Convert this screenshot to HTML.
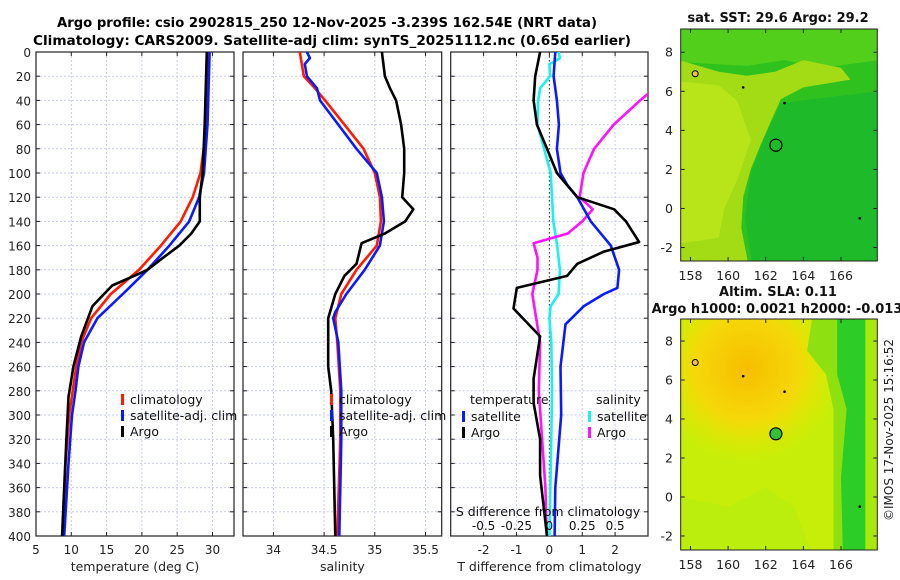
<!DOCTYPE html>
<html><head><meta charset="utf-8"><style>
html,body{margin:0;padding:0;background:#fff;}
svg{display:block;font-family:"DejaVu Sans","Liberation Sans",sans-serif;}
</style></head><body>
<svg id="chart" width="900" height="580" viewBox="0 0 900 580" xmlns="http://www.w3.org/2000/svg">
<text x="327" y="27" font-size="13" font-weight="bold" text-anchor="middle" textLength="540" lengthAdjust="spacingAndGlyphs">Argo profile: csio 2902815_250 12-Nov-2025 -3.239S 162.54E (NRT data)</text>
<text x="332" y="45" font-size="13" font-weight="bold" text-anchor="middle" textLength="598" lengthAdjust="spacingAndGlyphs">Climatology: CARS2009. Satellite-adj clim: synTS_20251112.nc (0.65d earlier)</text>
<g id="maps"></g>
<g id="plots"></g>
<text transform="translate(893,430) rotate(-90)" font-size="12" text-anchor="middle" fill="#222">©IMOS 17-Nov-2025 15:16:52</text>
</svg>
<script>
// ---------- data ----------
const depthTicks = [0,20,40,60,80,100,120,140,160,180,200,220,240,260,280,300,320,340,360,380,400];
const tempTicks = [5,10,15,20,25,30];
const salTicks = [34,34.5,35,35.5];
const tdiffTicks = [-2,-1,0,1,2];
const sdiffTicks = [-0.5,-0.25,0,0.25,0.5];
const sdiffLabels = ["-0.5","-0.25","0","0.25","0.5"];

const argoTDepth = [0,20,60,100,120,140,150,160,170,180,185,193,210,235,260,285,320,360,400];
const argoTemp   = [29.2,29.1,28.9,28.6,28.2,28.2,27.0,25.3,23.0,20.8,18.9,15.8,13.0,11.4,10.3,9.6,9.3,9.0,8.7];
const climTDepth = [0,60,100,120,140,160,180,200,220,240,260,280,300,340,400];
const climTemp   = [29.5,29.2,28.3,27.2,25.5,22.7,19.6,15.6,12.8,11.4,10.7,10.2,9.7,9.2,8.8];
const satTemp    = [29.6,29.3,28.8,28.1,26.7,23.9,20.8,17.3,13.7,11.8,11.0,10.6,10.1,9.6,9.0];

const argoSDepth = [0,20,30,40,60,80,100,120,130,140,150,158,175,185,200,220,260,280,320,400];
const argoSal    = [35.07,35.10,35.15,35.21,35.26,35.29,35.29,35.27,35.38,35.30,35.10,34.87,34.82,34.70,34.61,34.54,34.54,34.57,34.59,34.61];
const climSDepth = [0,20,30,40,60,80,100,120,140,160,180,200,220,240,280,320,400];
const climSal    = [34.26,34.30,34.41,34.51,34.70,34.89,35.00,35.05,35.06,35.02,34.82,34.67,34.61,34.63,34.66,34.66,34.63];
const satSDepth  = [0,5,10,20,30,40,60,80,100,120,140,160,180,200,215,220,240,280,320,400];
const satSal     = [34.33,34.36,34.31,34.33,34.43,34.46,34.64,34.82,35.02,35.07,35.09,35.05,34.90,34.72,34.61,34.59,34.64,34.67,34.67,34.65];

const satTdDepth = [0,20,40,60,80,100,110,120,140,160,180,195,200,210,225,260,300,360,400];
const satTdiff   = [0.18,0.13,0.23,0.29,0.23,0.34,0.55,0.85,1.26,1.87,2.12,2.07,1.66,1.05,0.49,0.34,0.36,0.18,0.16];
const argoTdDepth= [0,20,40,60,80,100,120,130,140,157,165,175,185,195,212,235,270,290,320,350,400];
const argoTdiff  = [-0.28,-0.43,-0.48,-0.38,-0.07,0.23,0.85,1.97,2.33,2.73,1.66,0.85,0.54,-0.99,-1.09,-0.28,-0.48,-0.48,-0.28,-0.28,-0.07];
const satSdDepth = [0,5,8,10,20,30,40,60,80,100,120,140,160,180,200,210,220,240,280,320,400];
const satSdiff   = [0.07,0.08,0.04,0.0,0.005,-0.07,-0.085,-0.09,-0.04,0.01,0.02,0.03,0.06,0.08,0.07,0.01,0.0,0.015,0.02,0.015,0.0];
const argoSdDepth= [30,40,60,80,100,120,130,140,150,158,170,180,200,240,280,320,360,400];
const argoSdiff  = [0.80,0.69,0.49,0.34,0.26,0.23,0.33,0.25,0.14,-0.12,-0.09,-0.09,-0.13,-0.07,-0.08,-0.055,-0.03,-0.02];

const mapLonTicks = [158,160,162,164,166];
const mapLatTicks = [-2,0,2,4,6,8];
const argoLon = [162.54];
const argoLat = [3.24];

// ---------- helpers ----------
const NS = "http://www.w3.org/2000/svg";
function mk(tag, attrs, parent){const e=document.createElementNS(NS,tag);for(const k in attrs)e.setAttribute(k,attrs[k]);parent.appendChild(e);return e;}
const TOP=52, BOT=536;
const yD = d => TOP + (d/400)*(BOT-TOP);
const plots = document.getElementById('plots');

function axisFn(x0,x1,v0,v1){return v => x0 + (v-v0)/(v1-v0)*(x1-x0);}

function panel(name, x0, x1, v0, v1, ticks, tickLbls, xlabel, showY){
  const g = mk('g',{},plots);
  
  
  const xs = axisFn(x0,x1,v0,v1);
  const defs = mk('clipPath',{id:'clip-'+name},g);
  mk('rect',{x:x0,y:TOP,width:x1-x0,height:BOT-TOP},defs);
  depthTicks.forEach(d=>{ if(d>0&&d<400){ const l=mk('line',{x1:x0,x2:x1,y1:yD(d),y2:yD(d),stroke:'#c5cce6','stroke-width':1,'stroke-dasharray':'2,2'},g);
     
    mk('line',{x1:x0,x2:x0+4,y1:yD(d),y2:yD(d),stroke:'#222'},g); mk('line',{x1:x1-4,x2:x1,y1:yD(d),y2:yD(d),stroke:'#222'},g);} });
  ticks.forEach((t,i)=>{ const x=xs(t);
    const l=mk('line',{x1:x,x2:x,y1:TOP,y2:BOT,stroke:'#c5cce6','stroke-width':1,'stroke-dasharray':'2,2'},g);
     
    mk('line',{x1:x,x2:x,y1:BOT-4,y2:BOT,stroke:'#222'},g); mk('line',{x1:x,x2:x,y1:TOP,y2:TOP+4,stroke:'#222'},g);
    const tx=mk('text',{x:x,y:BOT+18,'font-size':12,'text-anchor':'middle',fill:'#222'},g); tx.textContent=tickLbls[i];
     
  });
  const xl=mk('text',{x:(x0+x1)/2,y:BOT+35,'font-size':12.5,'text-anchor':'middle',fill:'#222'},g); xl.textContent=xlabel;
   
  if(showY){ depthTicks.forEach(d=>{ const t=mk('text',{x:31,y:yD(d)+5,'font-size':12,'text-anchor':'end',fill:'#222'},g); t.textContent=d;
      }); }
  const fr=mk('rect',{x:x0,y:TOP,width:x1-x0,height:BOT-TOP,fill:'none',stroke:'#222','stroke-width':1.2},g);
   
  return {g,xs,clip:'url(#clip-'+name+')'};
}
function line(p, depths, vals, color, name, xs){
  const f = xs||p.xs;
  const pts = depths.map((d,i)=>f(vals[i]).toFixed(1)+','+yD(d).toFixed(1)).join(' ');
  const e=mk('polyline',{points:pts,fill:'none',stroke:color,'stroke-width':2.6,'stroke-linejoin':'round','clip-path':p.clip},p.g);
  
  
}
function legend(g, x, y, items){
  items.forEach((it,i)=>{
    const yy=y+i*16;
    mk('rect',{x:x,y:yy-9,width:3,height:11,fill:it[1]},g);
    const t=mk('text',{x:x+9,y:yy+1,'font-size':12.5,fill:'#111'},g); t.textContent=it[0];
     
  });
}

// panel 1
const p1 = panel('temperature-panel',36,234,5,33.05,tempTicks,tempTicks.map(String),'temperature (deg C)',true);
line(p1, climTDepth, climTemp, '#ff1a00', 'climatology-temp-line');
line(p1, climTDepth, satTemp, '#0a1aff', 'satellite-temp-line');
line(p1, argoTDepth, argoTemp, '#000', 'argo-temp-line');
legend(p1.g,121,403,[['climatology','#ff1a00'],['satellite-adj. clim','#0a1aff'],['Argo','#000']]);

// panel 2
const p2 = panel('salinity-panel',243,441.7,33.70,35.66,salTicks,['34','34.5','35','35.5'],'salinity',false);
line(p2, climSDepth, climSal, '#ff1a00', 'climatology-sal-line');
line(p2, satSDepth, satSal, '#0a1aff', 'satellite-sal-line');
line(p2, argoSDepth, argoSal, '#000', 'argo-sal-line');
legend(p2.g,330,403,[['climatology','#ff1a00'],['satellite-adj. clim','#0a1aff'],['Argo','#000']]);

// panel 3
const p3 = panel('difference-panel',450.7,648,-3,3,tdiffTicks,tdiffTicks.map(String),'T difference from climatology',false);
const sx = axisFn(450.7,648,-0.75,0.75);
const zl=mk('line',{x1:p3.xs(0),x2:p3.xs(0),y1:TOP,y2:BOT,stroke:'#333','stroke-width':1,'stroke-dasharray':'1.5,2.5'},p3.g);
 
line(p3, satSdDepth, satSdiff, '#19f0f0', 'satellite-sal-diff-line', sx);
line(p3, argoSdDepth, argoSdiff, '#ff10ff', 'argo-sal-diff-line', sx);
line(p3, satTdDepth, satTdiff, '#0a1aff', 'satellite-temp-diff-line');
line(p3, argoTdDepth, argoTdiff, '#000', 'argo-temp-diff-line');
let t;
t=mk('text',{x:470,y:404,'font-size':12.5,fill:'#111'},p3.g); t.textContent='temperature';
 
t=mk('text',{x:596,y:404,'font-size':12.5,fill:'#111'},p3.g); t.textContent='salinity';
 
legend(p3.g,462,420,[['satellite','#0a1aff'],['Argo','#000']]);
legend(p3.g,588,420,[['satellite','#19f0f0'],['Argo','#ff10ff']]);
t=mk('text',{x:548,y:516,'font-size':12.5,'text-anchor':'middle',fill:'#111'},p3.g); t.textContent='S difference from climatology';
 
sdiffTicks.forEach((v,i)=>{ const e=mk('text',{x:sx(v),y:530,'font-size':12,'text-anchor':'middle',fill:'#111'},p3.g); e.textContent=sdiffLabels[i];
    });

// ---------- maps ----------
const maps = document.getElementById('maps');
function mapPanel(name, y0, y1, latTop, latBot, title1, title2, kind){
  const X0=680.7,X1=877.3;
  const g=mk('g',{},maps);
  
  
  const lx = axisFn(X0,X1,157.48,167.93);
  const ly = v => y0 + (latTop-v)/(latTop-latBot)*(y1-y0);
  const P = arr => arr.map(p=>lx(p[0]).toFixed(1)+','+ly(p[1]).toFixed(1)).join(' ');
  const cid='mclip-'+name;
  const cp=mk('clipPath',{id:cid},g); mk('rect',{x:X0,y:y0,width:X1-X0,height:y1-y0},cp);
  const fg=mk('g',{'clip-path':'url(#'+cid+')'},g);
  if(kind==='sst'){
    mk('rect',{x:X0,y:y0,width:X1-X0,height:y1-y0,fill:'#2fc21f'},fg);
    mk('polygon',{points:P([[157.4,9.4],[168,9.4],[168,7.6],[165,7.2],[163,7.6],[161,7.3],[157.4,7.5]]),fill:'#52cf1a'},fg);
    mk('polygon',{points:P([[157.4,7.6],[159.5,7.0],[161,6.8],[162.5,7.0],[164,7.6],[166,7.2],[166.5,6.6],[164,6.2],[162.8,5.6],[162.2,4.3],[161.7,3.2],[161.2,2.0],[160.8,0.6],[160.7,-1.0],[161.1,-3],[157.4,-3]]),fill:'#a3dc14'},fg);
    mk('polygon',{points:P([[157.4,6.5],[159.5,6.3],[160.5,5.5],[161.2,3.5],[160.5,1.5],[159.8,0],[159.5,-1.5],[157.4,-1.8]]),fill:'#b8e41a'},fg);
    mk('polygon',{points:P([[162.8,5.4],[168,6.0],[168,-3],[161.3,-3],[160.9,-0.5],[161.2,1.8],[161.9,3.6]]),fill:'#1fba2a'},fg);
  } else {
    mk('rect',{x:X0,y:y0,width:X1-X0,height:y1-y0,fill:'#c6ee08'},fg);
    const gr=mk('radialGradient',{id:'slaGrad',cx:'0.5',cy:'0.5',r:'0.5'},g);
    mk('stop',{offset:'0','stop-color':'#f7be00'},gr);
    mk('stop',{offset:'0.55','stop-color':'#f5d808'},gr);
    mk('stop',{offset:'1','stop-color':'#e6ea00','stop-opacity':'0'},gr);
    mk('ellipse',{cx:lx(161),cy:ly(6.6),rx:95,ry:95,fill:'url(#slaGrad)'},fg);
    mk('polygon',{points:P([[157.4,0],[160,-0.5],[162,0.5],[163.5,-0.5],[164.5,-3],[157.4,-3]]),fill:'#b6ec10','opacity':0.7},fg);
    mk('polygon',{points:P([[164.5,9.4],[168,9.4],[168,-3],[165.6,-3],[165.6,4.5],[165.2,6.3],[164.2,7.5]]),fill:'#8fe010'},fg);
    mk('polygon',{points:P([[165.8,9.4],[167.3,9.4],[167.3,-3],[166.1,-3],[166.0,1],[166.3,4.5],[165.8,6.3]]),fill:'#2ccd26'},fg);
    mk('polygon',{points:P([[167.3,9.4],[168,9.4],[168,-3],[167.3,-3]]),fill:'#a8e80c'},fg);
  }
  [[158.2,6.9],[160.8,6.2],[163,5.4],[167,-0.5]].forEach(p=>{ mk('circle',{cx:lx(p[0]),cy:ly(p[1]),r:1.3,fill:'#000'},fg); });
  mk('circle',{cx:lx(158.25),cy:ly(6.9),r:3,fill:'#f4c040',stroke:'#000','stroke-width':1},fg);
  argoLon.forEach((lo,i)=>{ const c=mk('circle',{cx:lx(lo),cy:ly(argoLat[i]),r:6,fill:kind==='sst'?'none':'#33c233',stroke:'#000','stroke-width':1.2},g);
      });
  mk('rect',{x:X0,y:y0,width:X1-X0,height:y1-y0,fill:'none',stroke:'#222','stroke-width':1},g);
  mapLonTicks.forEach(v=>{ const x=lx(v); mk('line',{x1:x,x2:x,y1:y1,y2:y1-4,stroke:'#222'},g); mk('line',{x1:x,x2:x,y1:y0,y2:y0+4,stroke:'#222'},g);
    const e=mk('text',{x:x,y:y1+19,'font-size':12.5,'text-anchor':'middle',fill:'#222'},g); e.textContent=v;
      });
  mapLatTicks.forEach(v=>{ const y=ly(v); mk('line',{x1:X0,x2:X0+4,y1:y,y2:y,stroke:'#222'},g); mk('line',{x1:X1,x2:X1-4,y1:y,y2:y,stroke:'#222'},g);
    const e=mk('text',{x:673,y:y+4.5,'font-size':12.5,'text-anchor':'end',fill:'#222'},g); e.textContent=v;
      });
  const t1=mk('text',{x:778,y:title2?296:y0-7,'font-size':13,'font-weight':'bold','text-anchor':'middle',fill:'#111'},g); t1.textContent=title1;
   
  if(title2){ const t2=mk('text',{x:777,y:313,'font-size':13,'font-weight':'bold','text-anchor':'middle',fill:'#111'},g); t2.textContent=title2;
      }
}
mapPanel('sst-map',29,261,9.19,-2.69,'sat. SST: 29.6 Argo: 29.2',null,'sst');
mapPanel('sla-map',319,550,9.13,-2.72,'Altim. SLA: 0.11','Argo h1000: 0.0021 h2000: -0.013','sla');
</script>
</body></html>
